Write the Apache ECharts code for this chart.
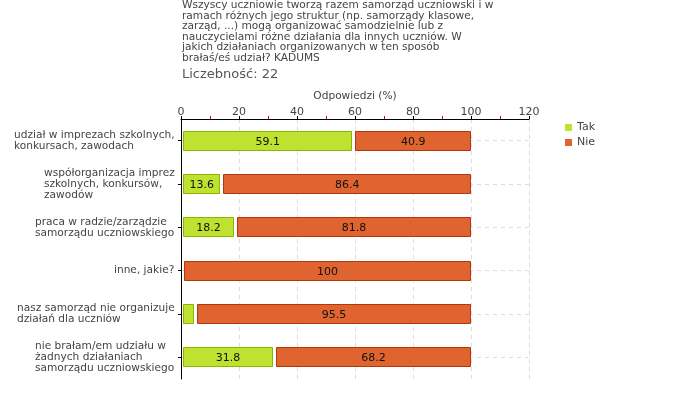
<!DOCTYPE html>
<html><head><meta charset="utf-8">
<script src="https://cdn.jsdelivr.net/npm/echarts@6/dist/echarts.min.js"></script>
<style>html,body{margin:0;padding:0;background:#fff}#c{width:680px;height:400px}</style>
</head><body><div id="c"></div>
<script>
const categories = [
  "udział w imprezach szkolnych,\nkonkursach, zawodach",
  "współorganizacja imprez\nszkolnych, konkursów,\nzawodów",
  "praca w radzie/zarządzie\nsamorządu uczniowskiego",
  "inne, jakie?",
  "nasz samorząd nie organizuje\ndziałań dla uczniów",
  "nie brałam/em udziału w\nżadnych działaniach\nsamorządu uczniowskiego"
];
const tak = [59.1, 13.6, 18.2, 0, 4.5, 31.8];
const nie = [40.9, 86.4, 81.8, 100, 95.5, 68.2];
const seriesNames = ["Tak", "Nie"];
const titleText = "Wszyscy uczniowie tworzą razem samorząd uczniowski i w\nramach różnych jego struktur (np. samorządy klasowe,\nzarząd, ...) mogą organizować samodzielnie lub z\nnauczycielami różne działania dla innych uczniów. W\njakich działaniach organizowanych w ten sposób\nbrałaś/eś udział? KADUMS";
const countText = "Liczebność: 22";
const axisName = "Odpowiedzi (%)";

const FONT = '"DejaVu Sans", Verdana, sans-serif';
const LABEL_SIZE = 10.6;
const ctx = document.createElement('canvas').getContext('2d');
ctx.font = LABEL_SIZE + 'px ' + FONT;
const rich = {};
categories.forEach((c, i) => {
  const w = Math.max(...c.split('\n').map(s => ctx.measureText(s).width));
  rich['l' + i] = {width: Math.ceil(w), align: 'left', fontSize: LABEL_SIZE, fontFamily: FONT, color: '#444', lineHeight: 11};
});

const colors = {Tak: {fill: '#bee22f', stroke: '#8cb400'}, Nie: {fill: '#e0642f', stroke: '#b0380c'}};

function makeRender(isNie) {
  return function (params, api) {
    const idx = api.value(0);
    const t = api.value(1), n = api.value(2);
    const h = 20;
    const cy = api.coord([0, idx])[1];
    let x0, x1, v;
    if (!isNie) {
      x0 = api.coord([0, idx])[0] + 2;
      x1 = api.coord([t, idx])[0];
      v = t;
    } else {
      x0 = api.coord([t, idx])[0] + 3;
      x1 = api.coord([t + n, idx])[0];
      v = n;
    }
    if (v <= 0) return null;
    const c = colors[isNie ? 'Nie' : 'Tak'];
    const children = [{
      type: 'rect',
      shape: {x: Math.round(x0) + 0.5, y: Math.round(cy - h / 2) + 0.5, width: Math.round(x1 - x0) - 1, height: h - 1},
      style: {fill: c.fill, stroke: c.stroke, lineWidth: 1}
    }];
    if (v >= 10) {
      children.push({
        type: 'text',
        style: {x: (x0 + x1) / 2, y: cy + 1, text: String(v), align: 'center', verticalAlign: 'middle',
          font: '11px ' + FONT, fill: '#111'}
      });
    }
    return {type: 'group', children: children};
  };
}

const data = categories.map((c, i) => [i, tak[i], nie[i]]);

const chart = echarts.init(document.getElementById('c'), null, {renderer: 'canvas'});
chart.setOption({
  animation: false,
  textStyle: {fontFamily: FONT},
  title: [
    {text: titleText, left: 177, top: -5, textStyle: {fontSize: 10.6, fontWeight: 'normal', color: '#444', lineHeight: 10.6, fontFamily: FONT}},
    {text: countText, left: 177, top: 63, textStyle: {fontSize: 13, fontWeight: 'normal', color: '#555', fontFamily: FONT}}
  ],
  legend: {
    orient: 'vertical', left: 560, top: 117, itemWidth: 7, itemHeight: 7, itemGap: 4,
    textStyle: {fontSize: 11, color: '#444', fontFamily: FONT},
    data: seriesNames.map(n => ({name: n, icon: 'rect', itemStyle: {color: colors[n].fill, borderWidth: 0}}))
  },
  grid: {left: 181, top: 119, right: 151, bottom: 21, containLabel: false},
  xAxis: {
    type: 'value', position: 'top', min: 0, max: 120, interval: 20,
    name: axisName, nameLocation: 'middle', nameGap: 13,
    nameTextStyle: {fontSize: 10.6, color: '#444', fontFamily: FONT},
    axisLine: {show: true, lineStyle: {color: '#000', width: 1}},
    axisTick: {show: true, length: 3, lineStyle: {color: '#000'}},
    minorTick: {show: true, splitNumber: 2, length: 3, lineStyle: {color: '#e00000'}},
    axisLabel: {fontSize: 11, color: '#444', margin: 1, fontFamily: FONT},
    splitLine: {show: true, lineStyle: {color: '#dddddd', type: [4, 4]}}
  },
  yAxis: {
    type: 'category', inverse: true, data: categories,
    axisLine: {show: true, lineStyle: {color: '#000', width: 1}},
    axisTick: {show: true, alignWithLabel: true, length: 3, lineStyle: {color: '#000'}},
    axisLabel: {
      margin: 6, align: 'right',
      formatter: (v, i) => '{l' + i + '|' + v + '}',
      rich: rich
    },
    splitLine: {show: true, alignWithLabel: true, lineStyle: {color: '#dddddd', type: [4, 4]}}
  },
  series: [
    {name: 'Tak', type: 'custom', renderItem: makeRender(false), data: data, encode: {x: [1], y: 0},
     itemStyle: {color: colors.Tak.fill}, z: 3},
    {name: 'Nie', type: 'custom', renderItem: makeRender(true), data: data, encode: {x: [1, 2], y: 0},
     itemStyle: {color: colors.Nie.fill}, z: 3}
  ]
});
</script></body></html>
